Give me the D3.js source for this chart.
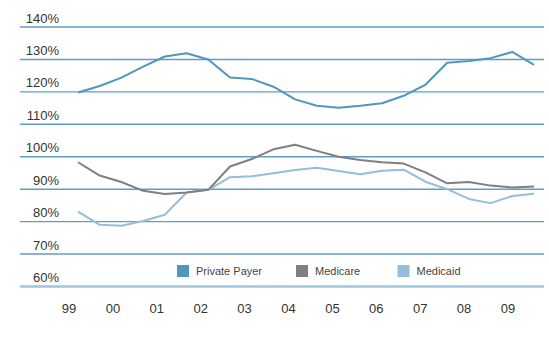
<!DOCTYPE html>
<html>
<head>
<meta charset="utf-8">
<script src="https://cdn.jsdelivr.net/npm/d3@7/dist/d3.min.js"></script>
<style>
  html, body { margin: 0; padding: 0; background: #fff; }
  svg { display: block; font-family: "Liberation Sans", Arial, Helvetica, sans-serif; }
</style>
</head>
<body>
<svg id="chart" width="549" height="343"></svg>
<script>
// Half-yearly observations, 1999 through 2009 (two per year)
const years = ["99", "00", "01", "02", "03", "04", "05", "06", "07", "08", "09"];
const periods = d3.range(22);

const privatePayer = [119.8, 121.8, 124.4, 127.8, 130.9, 131.9, 130.0, 124.4, 124.0, 121.6, 117.7,
                      115.7, 115.1, 115.7, 116.5, 118.8, 122.2, 129.0, 129.5, 130.4, 132.3, 128.3];
const medicare =     [98.3, 94.2, 92.2, 89.5, 88.5, 89.0, 89.8, 97.0, 99.3, 102.3, 103.7,
                      101.8, 100.0, 99.0, 98.3, 97.9, 95.2, 91.8, 92.2, 91.1, 90.5, 90.8];
const medicaid =     [83.1, 79.0, 78.7, 80.2, 82.1, 89.0, 89.8, 93.7, 94.0, 94.9, 95.9,
                      96.6, 95.6, 94.6, 95.7, 96.0, 92.3, 90.0, 87.0, 85.7, 87.9, 88.6];

const yTicks = [140, 130, 120, 110, 100, 90, 80, 70, 60];
const seriesNames = ["Private Payer", "Medicare", "Medicaid"];
const seriesColors = ["#4f97bf", "#7f7f82", "#93bfda"];

const svg = d3.select("#chart");

const y = d3.scaleLinear().domain([60, 140]).range([286.5, 27]);
const x = d3.scalePoint().domain(periods).range([78, 534]);
const xLabel = d3.scalePoint().domain(years).range([68.5, 507.5]);

const gridLeft = 20, gridRight = 544;

// Horizontal gridlines
svg.append("g").selectAll("line")
  .data(yTicks)
  .join("line")
  .attr("x1", gridLeft).attr("x2", gridRight)
  .attr("y1", d => y(d)).attr("y2", d => y(d))
  .attr("stroke", d => d === 60 ? "#9fc6de" : "#5f9dc4")
  .attr("stroke-width", d => d === 60 ? 2.5 : 1.4);

// Y axis labels, right-aligned above each gridline
const yAxis = d3.axisLeft(y).tickValues(yTicks).tickFormat(d => d + "%").tickSize(0).tickPadding(0);
const yg = svg.append("g").attr("transform", "translate(59,0)").call(yAxis);
yg.select(".domain").remove();
yg.selectAll("text")
  .attr("dy", "-5px")
  .attr("x", 0)
  .attr("font-size", 13)
  .attr("font-family", "Liberation Sans, Arial, sans-serif")
  .attr("fill", "#333")
  .attr("text-anchor", "end");

// X axis labels (years)
const xAxis = d3.axisBottom(xLabel).tickSize(0).tickPadding(0);
const xg = svg.append("g").attr("transform", "translate(0,304)").call(xAxis);
xg.select(".domain").remove();
xg.selectAll("text")
  .attr("font-size", 13)
  .attr("font-family", "Liberation Sans, Arial, sans-serif")
  .attr("fill", "#333");

// Series lines
const line = d3.line().x((d, i) => x(i)).y(d => y(d));
const allSeries = [privatePayer, medicare, medicaid];
svg.append("g").selectAll("path")
  .data([medicaid, medicare, privatePayer])
  .join("path")
  .attr("d", line)
  .attr("fill", "none")
  .attr("stroke", d => seriesColors[allSeries.indexOf(d)])
  .attr("stroke-width", 2)
  .attr("stroke-linejoin", "round");

// Legend
const legendX = [177, 296, 397.5];
const lg = svg.append("g").selectAll("g")
  .data(seriesNames)
  .join("g")
  .attr("transform", (d, i) => `translate(${legendX[i]},265)`);
lg.append("rect")
  .attr("width", 12).attr("height", 12)
  .attr("fill", (d, i) => seriesColors[i]);
lg.append("text")
  .attr("x", 19).attr("y", 10)
  .attr("font-size", 11)
  .attr("fill", "#444")
  .text(d => d);
</script>
</body>
</html>
